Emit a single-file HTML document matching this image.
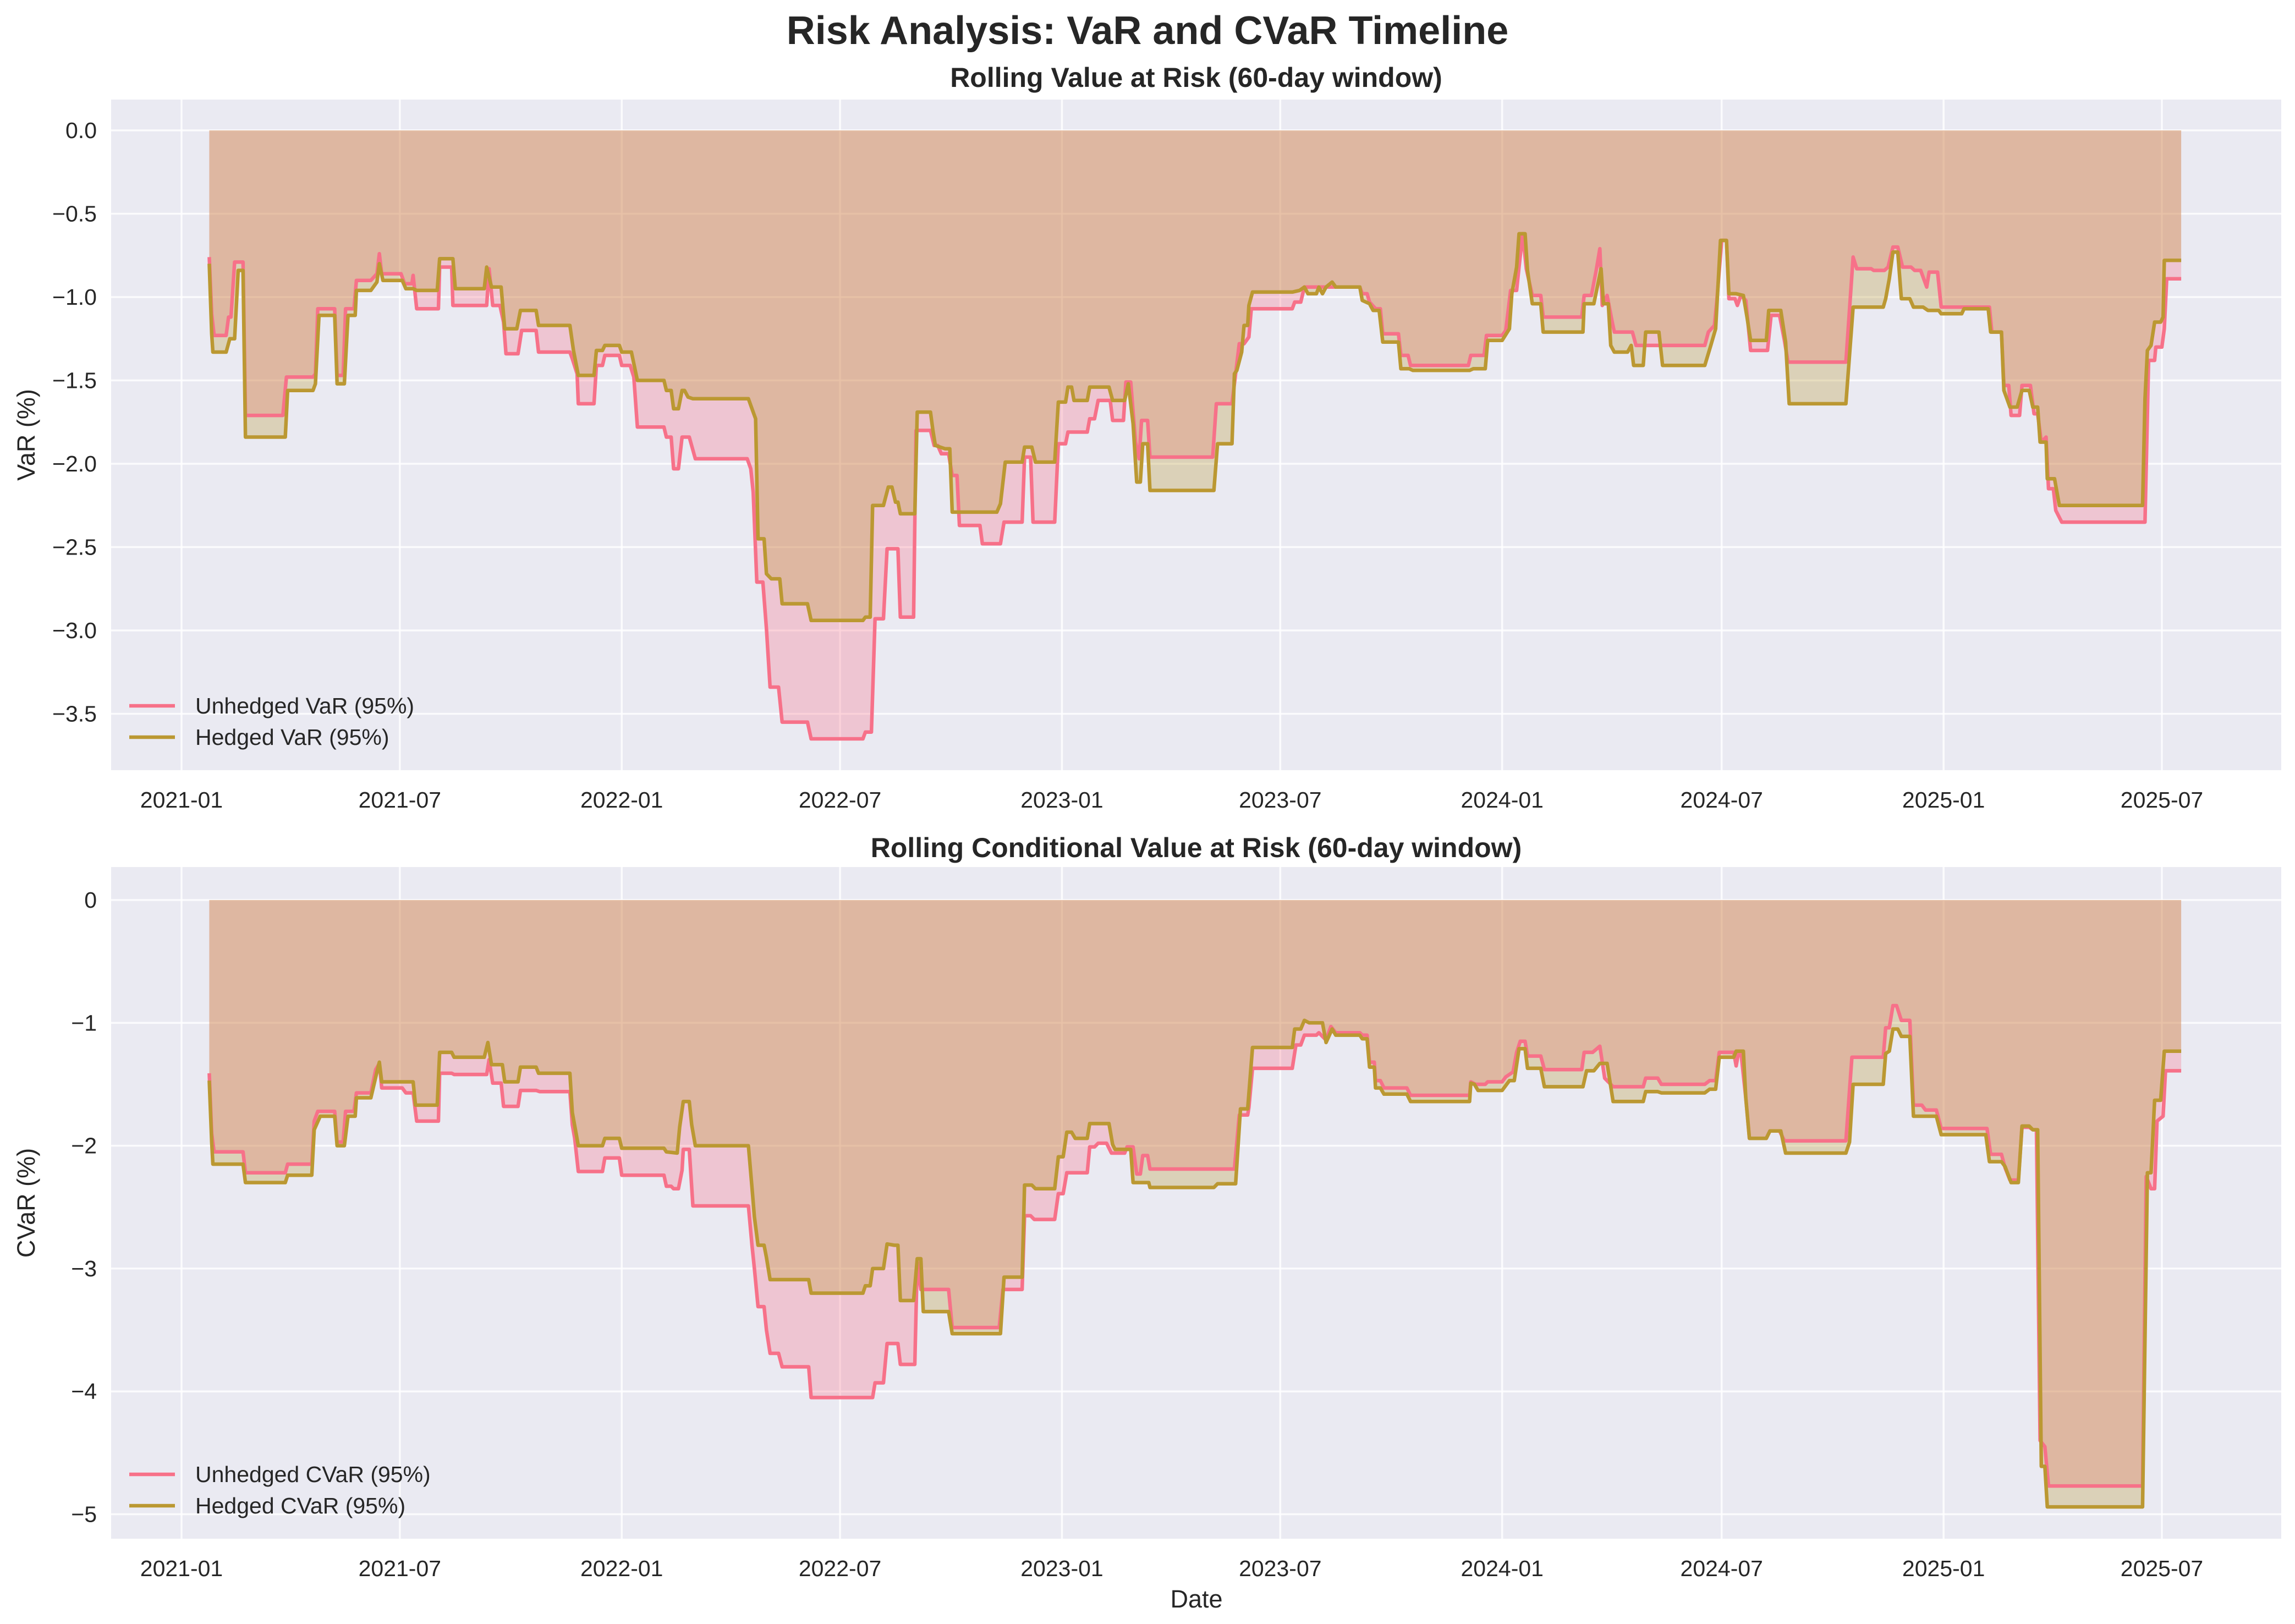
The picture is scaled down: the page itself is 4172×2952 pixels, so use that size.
<!DOCTYPE html>
<html><head><meta charset="utf-8"><title>Risk Analysis</title>
<style>
html,body{margin:0;padding:0;background:#fff;}
svg{display:block;font-family:"Liberation Sans","DejaVu Sans",sans-serif;}
</style></head>
<body>
<svg id="chart" width="4172" height="2952" viewBox="0 0 4172 2952" xmlns="http://www.w3.org/2000/svg">
<text x="2086" y="80" text-anchor="middle" font-size="72" font-weight="bold" fill="#262626">Risk Analysis: VaR and CVaR Timeline</text>
<g id="p1"></g>
<g id="p2"></g>
</svg>
<script>
// days since 2021-01-01
const tickDays = [0,181,365,546,730,911,1095,1277,1461,1642];
const tickLabels = ["2021-01","2021-07","2022-01","2022-07","2023-01","2023-07","2024-01","2024-07","2025-01","2025-07"];
const varTicks = [0,-0.5,-1,-1.5,-2,-2.5,-3,-3.5];
const varTickLabels = ["0.0","-0.5","-1.0","-1.5","-2.0","-2.5","-3.0","-3.5"];
const cvarTicks = [0,-1,-2,-3,-4,-5];
const cvarTickLabels = ["0","-1","-2","-3","-4","-5"];

const varUDays = [23,25,27,37,39,41,44,51,53,84,87,109,111,113,127,129,134,136,143,145,157,162,164,166,182,185,191,192,195,213,214,224,225,253,255,258,264,267,269,279,282,294,296,322,324,328,329,342,344,349,351,363,365,372,375,378,400,402,406,408,412,415,421,426,469,472,474,477,482,485,488,495,498,519,522,565,567,572,575,582,585,594,596,607,609,621,624,627,630,636,639,643,645,662,664,679,682,697,699,704,706,724,727,733,735,751,753,757,760,770,772,781,783,787,791,794,796,801,803,855,858,871,877,881,885,887,921,923,928,931,977,979,983,985,990,994,996,1009,1011,1017,1019,1067,1069,1080,1082,1095,1098,1102,1107,1109,1112,1115,1120,1127,1129,1161,1163,1169,1173,1176,1178,1182,1186,1188,1203,1206,1263,1266,1271,1273,1277,1281,1283,1288,1290,1293,1297,1301,1315,1318,1325,1329,1332,1380,1386,1389,1401,1403,1412,1415,1419,1423,1427,1434,1437,1442,1447,1449,1456,1459,1499,1501,1509,1511,1515,1517,1524,1526,1533,1536,1539,1542,1546,1548,1552,1554,1559,1628,1631,1636,1637,1642,1644,1646,1658];
const varUVals = [-0.76,-1.10,-1.23,-1.23,-1.12,-1.12,-0.79,-0.79,-1.71,-1.71,-1.48,-1.48,-1.46,-1.07,-1.07,-1.47,-1.47,-1.07,-1.07,-0.90,-0.90,-0.86,-0.74,-0.86,-0.86,-0.92,-0.92,-0.87,-1.07,-1.07,-0.82,-0.82,-1.05,-1.05,-0.83,-1.05,-1.05,-1.15,-1.34,-1.34,-1.20,-1.20,-1.33,-1.33,-1.37,-1.46,-1.64,-1.64,-1.41,-1.41,-1.35,-1.35,-1.41,-1.41,-1.48,-1.78,-1.78,-1.84,-1.84,-2.03,-2.03,-1.84,-1.84,-1.97,-1.97,-2.03,-2.17,-2.71,-2.71,-2.99,-3.34,-3.34,-3.55,-3.55,-3.65,-3.65,-3.61,-3.61,-2.93,-2.93,-2.51,-2.51,-2.92,-2.92,-1.80,-1.80,-1.89,-1.89,-1.94,-1.94,-2.07,-2.07,-2.37,-2.37,-2.48,-2.48,-2.35,-2.35,-1.96,-1.96,-2.35,-2.35,-1.88,-1.88,-1.81,-1.81,-1.73,-1.73,-1.62,-1.62,-1.74,-1.74,-1.51,-1.51,-1.87,-1.97,-1.74,-1.74,-1.96,-1.96,-1.64,-1.64,-1.28,-1.28,-1.24,-1.07,-1.07,-1.03,-1.03,-0.94,-0.94,-0.98,-0.98,-1.03,-1.07,-1.07,-1.22,-1.22,-1.35,-1.35,-1.41,-1.41,-1.35,-1.35,-1.23,-1.23,-1.20,-0.96,-0.96,-0.82,-0.62,-0.83,-0.99,-0.99,-1.12,-1.12,-0.99,-0.99,-0.84,-0.71,-1.05,-0.99,-1.14,-1.21,-1.21,-1.29,-1.29,-1.21,-1.17,-1.02,-0.66,-0.66,-1.01,-1.01,-1.05,-0.99,-1.02,-1.32,-1.32,-1.11,-1.11,-1.26,-1.39,-1.39,-0.76,-0.83,-0.83,-0.84,-0.84,-0.82,-0.70,-0.70,-0.82,-0.82,-0.84,-0.84,-0.94,-0.85,-0.85,-1.06,-1.06,-1.21,-1.21,-1.53,-1.53,-1.71,-1.71,-1.53,-1.53,-1.70,-1.70,-1.87,-1.84,-2.15,-2.15,-2.28,-2.35,-2.35,-1.38,-1.38,-1.30,-1.30,-1.19,-0.89,-0.89];

const varHDays = [23,25,26,37,40,44,47,51,53,86,88,109,111,114,127,129,135,138,144,145,157,162,164,167,183,186,192,195,212,214,225,227,251,253,257,265,268,278,281,294,296,322,325,329,342,344,349,351,363,365,373,378,400,402,406,408,412,415,417,420,424,470,473,476,478,483,485,489,496,498,519,522,565,567,571,573,582,586,589,592,594,596,608,610,621,623,625,633,637,639,676,679,683,697,699,705,708,724,727,733,735,738,740,751,753,769,772,782,785,789,792,795,797,801,803,856,859,871,873,875,879,881,884,885,888,921,927,931,934,941,943,946,949,954,957,977,979,985,988,993,996,1009,1011,1018,1021,1068,1071,1081,1083,1095,1101,1103,1107,1109,1114,1116,1120,1127,1129,1162,1163,1171,1177,1179,1183,1185,1188,1199,1202,1204,1212,1214,1225,1228,1263,1268,1272,1276,1281,1283,1289,1295,1298,1301,1314,1316,1326,1330,1333,1380,1386,1411,1413,1416,1419,1423,1426,1433,1436,1444,1448,1457,1459,1476,1478,1498,1500,1509,1511,1516,1522,1526,1532,1535,1539,1541,1546,1547,1553,1557,1626,1628,1630,1633,1636,1641,1643,1644,1658];
const varHVals = [-0.80,-1.22,-1.33,-1.33,-1.25,-1.25,-0.84,-0.84,-1.84,-1.84,-1.56,-1.56,-1.52,-1.11,-1.11,-1.52,-1.52,-1.11,-1.11,-0.96,-0.96,-0.91,-0.80,-0.90,-0.90,-0.95,-0.95,-0.96,-0.96,-0.77,-0.77,-0.95,-0.95,-0.82,-0.94,-0.94,-1.19,-1.19,-1.08,-1.08,-1.17,-1.17,-1.32,-1.47,-1.47,-1.32,-1.32,-1.29,-1.29,-1.33,-1.33,-1.50,-1.50,-1.56,-1.56,-1.67,-1.67,-1.56,-1.56,-1.60,-1.61,-1.61,-1.67,-1.73,-2.45,-2.45,-2.66,-2.69,-2.69,-2.84,-2.84,-2.94,-2.94,-2.92,-2.92,-2.25,-2.25,-2.14,-2.14,-2.23,-2.23,-2.30,-2.30,-1.69,-1.69,-1.80,-1.89,-1.91,-1.91,-2.29,-2.29,-2.24,-1.99,-1.99,-1.90,-1.90,-1.99,-1.99,-1.63,-1.63,-1.54,-1.54,-1.62,-1.62,-1.54,-1.54,-1.62,-1.62,-1.52,-1.76,-2.11,-2.11,-1.88,-1.88,-2.16,-2.16,-1.88,-1.88,-1.46,-1.44,-1.33,-1.17,-1.17,-1.05,-0.97,-0.97,-0.96,-0.94,-0.98,-0.98,-0.94,-0.98,-0.94,-0.91,-0.94,-0.94,-1.02,-1.04,-1.08,-1.08,-1.27,-1.27,-1.43,-1.43,-1.44,-1.44,-1.43,-1.43,-1.26,-1.26,-1.19,-0.98,-0.82,-0.62,-0.62,-0.84,-1.04,-1.04,-1.21,-1.21,-1.04,-1.04,-0.83,-1.04,-1.04,-1.29,-1.33,-1.33,-1.29,-1.41,-1.41,-1.21,-1.21,-1.41,-1.41,-1.29,-1.19,-0.66,-0.66,-0.98,-0.98,-0.99,-1.12,-1.26,-1.26,-1.08,-1.08,-1.27,-1.64,-1.64,-1.06,-1.06,-1.01,-0.89,-0.73,-0.73,-1.01,-1.01,-1.06,-1.06,-1.08,-1.08,-1.10,-1.10,-1.07,-1.07,-1.21,-1.21,-1.56,-1.66,-1.66,-1.56,-1.56,-1.66,-1.66,-1.87,-1.87,-2.09,-2.09,-2.25,-2.25,-1.61,-1.32,-1.29,-1.15,-1.15,-1.12,-0.78,-0.78];

const cvarUDays = [23,25,27,51,53,86,88,108,110,113,127,129,134,136,143,145,157,161,164,166,183,186,192,195,213,214,224,226,253,255,258,265,267,279,281,294,297,322,324,326,329,349,351,363,365,400,402,406,408,412,415,416,421,424,470,473,475,478,483,485,488,495,498,520,522,573,575,582,585,594,596,608,610,613,636,639,678,681,697,699,704,707,724,727,731,734,751,753,757,760,767,771,782,784,789,792,795,797,801,803,873,877,884,885,888,921,924,928,931,941,943,949,953,957,977,979,983,985,989,990,994,997,1016,1019,1068,1069,1073,1081,1083,1095,1098,1104,1107,1110,1114,1116,1127,1130,1161,1163,1170,1176,1180,1187,1212,1214,1224,1227,1263,1267,1272,1275,1287,1289,1291,1293,1297,1300,1314,1317,1325,1329,1380,1385,1411,1413,1416,1419,1422,1426,1433,1436,1443,1446,1455,1459,1497,1500,1509,1512,1516,1523,1526,1532,1535,1538,1541,1545,1548,1626,1629,1633,1636,1638,1643,1645,1658];
const cvarUVals = [-1.41,-1.90,-2.05,-2.05,-2.22,-2.22,-2.15,-2.15,-1.80,-1.72,-1.72,-1.97,-1.97,-1.72,-1.72,-1.57,-1.57,-1.38,-1.33,-1.53,-1.53,-1.57,-1.57,-1.80,-1.80,-1.41,-1.41,-1.42,-1.42,-1.30,-1.49,-1.49,-1.68,-1.68,-1.55,-1.55,-1.56,-1.56,-1.83,-1.94,-2.21,-2.21,-2.10,-2.10,-2.24,-2.24,-2.33,-2.33,-2.35,-2.35,-2.20,-2.03,-2.03,-2.49,-2.49,-2.81,-3.00,-3.31,-3.31,-3.50,-3.69,-3.69,-3.80,-3.80,-4.05,-4.05,-3.93,-3.93,-3.61,-3.61,-3.78,-3.78,-2.94,-3.17,-3.17,-3.48,-3.48,-3.17,-3.17,-2.57,-2.57,-2.60,-2.60,-2.39,-2.39,-2.22,-2.22,-2.01,-2.01,-1.98,-1.98,-2.06,-2.06,-2.01,-2.01,-2.23,-2.23,-2.08,-2.08,-2.19,-2.19,-1.75,-1.75,-1.69,-1.37,-1.37,-1.18,-1.18,-1.10,-1.10,-1.08,-1.14,-1.03,-1.08,-1.08,-1.10,-1.10,-1.32,-1.32,-1.47,-1.47,-1.53,-1.53,-1.59,-1.59,-1.48,-1.50,-1.50,-1.48,-1.48,-1.44,-1.40,-1.24,-1.15,-1.15,-1.27,-1.27,-1.38,-1.38,-1.24,-1.24,-1.19,-1.45,-1.52,-1.52,-1.45,-1.45,-1.50,-1.50,-1.47,-1.47,-1.24,-1.24,-1.35,-1.24,-1.24,-1.61,-1.94,-1.94,-1.88,-1.88,-1.96,-1.96,-1.28,-1.28,-1.04,-1.04,-0.86,-0.86,-0.98,-0.98,-1.67,-1.67,-1.71,-1.71,-1.86,-1.86,-2.07,-2.07,-2.18,-2.28,-2.28,-1.85,-1.85,-1.87,-1.87,-4.40,-4.45,-4.77,-4.77,-2.25,-2.35,-2.35,-1.80,-1.76,-1.39,-1.39];

const cvarHDays = [23,25,26,51,53,86,88,108,110,115,127,129,135,138,144,145,157,162,164,166,192,194,212,214,224,226,251,254,257,266,268,279,281,294,296,322,324,329,349,351,363,365,400,402,411,413,416,421,423,426,470,473,475,478,483,485,488,520,522,565,567,571,573,582,585,591,594,596,607,610,613,615,636,639,679,682,697,699,705,708,724,727,731,734,738,741,751,753,769,772,774,787,789,802,803,856,859,874,878,884,888,921,923,928,931,935,946,949,954,957,977,979,983,985,989,990,994,997,1016,1019,1068,1069,1072,1075,1095,1101,1105,1109,1114,1116,1127,1130,1162,1165,1171,1176,1182,1187,1212,1214,1224,1227,1263,1267,1272,1275,1287,1289,1295,1297,1300,1314,1317,1326,1330,1380,1383,1386,1411,1413,1416,1419,1423,1426,1433,1436,1455,1459,1496,1499,1509,1512,1517,1523,1526,1532,1535,1539,1542,1545,1547,1626,1630,1633,1636,1641,1644,1658];
const cvarHVals = [-1.47,-1.97,-2.15,-2.15,-2.30,-2.30,-2.24,-2.24,-1.87,-1.76,-1.76,-2.00,-2.00,-1.76,-1.76,-1.61,-1.61,-1.40,-1.32,-1.48,-1.48,-1.67,-1.67,-1.24,-1.24,-1.28,-1.28,-1.16,-1.34,-1.34,-1.48,-1.48,-1.36,-1.36,-1.41,-1.41,-1.73,-2.00,-2.00,-1.94,-1.94,-2.02,-2.02,-2.05,-2.06,-1.85,-1.64,-1.64,-1.83,-2.00,-2.00,-2.34,-2.58,-2.81,-2.81,-2.91,-3.09,-3.09,-3.20,-3.20,-3.14,-3.14,-3.00,-3.00,-2.80,-2.81,-2.81,-3.26,-3.26,-2.92,-2.92,-3.35,-3.35,-3.53,-3.53,-3.07,-3.07,-2.32,-2.32,-2.35,-2.35,-2.09,-2.09,-1.89,-1.89,-1.94,-1.94,-1.82,-1.82,-1.99,-2.03,-2.03,-2.30,-2.30,-2.34,-2.34,-2.31,-2.31,-1.70,-1.70,-1.20,-1.20,-1.05,-1.05,-0.98,-1.00,-1.00,-1.16,-1.05,-1.10,-1.10,-1.13,-1.13,-1.36,-1.36,-1.53,-1.53,-1.58,-1.58,-1.64,-1.64,-1.49,-1.50,-1.55,-1.55,-1.47,-1.47,-1.21,-1.21,-1.37,-1.37,-1.52,-1.52,-1.39,-1.39,-1.33,-1.33,-1.64,-1.64,-1.56,-1.56,-1.57,-1.57,-1.54,-1.54,-1.28,-1.28,-1.23,-1.23,-1.61,-1.94,-1.94,-1.88,-1.88,-2.06,-2.06,-1.97,-1.50,-1.50,-1.25,-1.23,-1.05,-1.05,-1.11,-1.11,-1.76,-1.76,-1.91,-1.91,-2.13,-2.13,-2.17,-2.30,-2.30,-1.84,-1.84,-1.87,-1.87,-4.61,-4.61,-4.94,-4.94,-2.22,-2.22,-1.63,-1.63,-1.23,-1.23];

const NS = "http://www.w3.org/2000/svg";
const AX_L = 202, AX_R = 4147;
function xScale(d){ return 330 + d * (3600/1642); }
function mk(tag, attrs, parent){
  const e = document.createElementNS(NS, tag);
  for (const k in attrs) e.setAttribute(k, attrs[k]);
  parent.appendChild(e);
  return e;
}
function drawPanel(g, cfg){
  const yS = v => cfg.y0 - v * cfg.ppu;
  const bg = mk('rect', {x:AX_L, y:cfg.top, width:AX_R-AX_L, height:cfg.bottom-cfg.top, fill:'#eaeaf2'}, g);
  
  
  tickDays.forEach((d, i) => {
    const x = xScale(d);
    const l = mk('line', {x1:x, x2:x, y1:cfg.top, y2:cfg.bottom, stroke:'#ffffff', 'stroke-width':3.5, 'stroke-opacity':0.8}, g);
    
    
    const t = mk('text', {x:x, y:cfg.bottom + 68, 'text-anchor':'middle', 'font-size':41, fill:'#262626'}, g);
    t.textContent = tickLabels[i];
    
    
  });
  cfg.yt.forEach((v, i) => {
    const y = yS(v);
    const l = mk('line', {x1:AX_L, x2:AX_R, y1:y, y2:y, stroke:'#ffffff', 'stroke-width':3.5, 'stroke-opacity':0.8}, g);
    
    
    const t = mk('text', {x:AX_L - 26, y:y + 14, 'text-anchor':'end', 'font-size':41, fill:'#262626'}, g);
    t.textContent = cfg.ytl[i].replace('-', '\u2212');
    
    
  });
  const series = [
    {days:cfg.uD, vals:cfg.uV, color:'#f77189', name:'unhedged'},
    {days:cfg.hD, vals:cfg.hV, color:'#bb9832', name:'hedged'}
  ];
  series.forEach(s => {
    const pts = s.days.map((d, i) => xScale(d).toFixed(1) + ',' + yS(s.vals[i]).toFixed(1));
    const first = xScale(s.days[0]).toFixed(1), last = xScale(s.days[s.days.length-1]).toFixed(1);
    const poly = mk('polygon', {points: first + ',' + yS(0) + ' ' + pts.join(' ') + ' ' + last + ',' + yS(0), fill:s.color, 'fill-opacity':0.3, stroke:'none'}, g);
    
    
  });
  series.forEach(s => {
    const pts = s.days.map((d, i) => xScale(d).toFixed(1) + ',' + yS(s.vals[i]).toFixed(1));
    const pl = mk('polyline', {points: pts.join(' '), fill:'none', stroke:s.color, 'stroke-width':6.5, 'stroke-linejoin':'round'}, g);
    
    
  });
  cfg.legend.forEach((lab, i) => {
    const y = cfg.legY + i * 57;
    const ln = mk('line', {x1:235, x2:318, y1:y, y2:y, stroke:series[i].color, 'stroke-width':6.5}, g);
    
    
    const t = mk('text', {x:355, y:y + 14, 'font-size':41, fill:'#262626'}, g);
    t.textContent = lab;
    
    
  });
  const title = mk('text', {x:(AX_L+AX_R)/2, y:cfg.titleY, 'text-anchor':'middle', 'font-size':50, 'font-weight':'bold', fill:'#262626'}, g);
  title.textContent = cfg.title;
  
  
  const yl = mk('text', {x:0, y:0, 'text-anchor':'middle', 'font-size':45, fill:'#262626', transform:'translate(63,' + ((cfg.top+cfg.bottom)/2) + ') rotate(-90)'}, g);
  yl.textContent = cfg.ylabel;
  
  
}
drawPanel(document.getElementById('p1'), {key:'var', top:181, bottom:1400, y0:237, ppu:303, titleY:158,
  yt:varTicks, ytl:varTickLabels, uD:varUDays, uV:varUVals, hD:varHDays, hV:varHVals,
  legend:['Unhedged VaR (95%)','Hedged VaR (95%)'], legY:1283,
  title:'Rolling Value at Risk (60-day window)', ylabel:'VaR (%)'});
drawPanel(document.getElementById('p2'), {key:'cvar', top:1576, bottom:2797, y0:1636, ppu:223.3, titleY:1558,
  yt:cvarTicks, ytl:cvarTickLabels, uD:cvarUDays, uV:cvarUVals, hD:cvarHDays, hV:cvarHVals,
  legend:['Unhedged CVaR (95%)','Hedged CVaR (95%)'], legY:2680,
  title:'Rolling Conditional Value at Risk (60-day window)', ylabel:'CVaR (%)'});
const xl = mk('text', {x:2175, y:2922, 'text-anchor':'middle', 'font-size':45, fill:'#262626'}, document.getElementById('chart'));
xl.textContent = 'Date';


</script>
</body></html>
